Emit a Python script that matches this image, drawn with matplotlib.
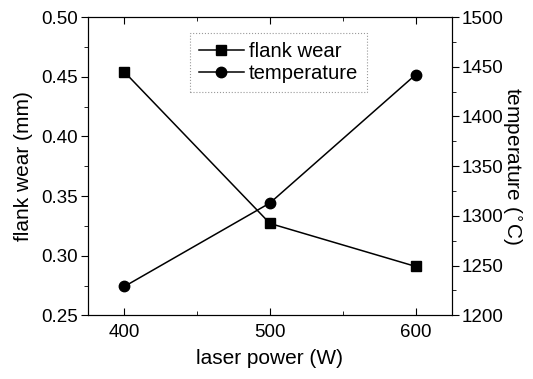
import matplotlib
matplotlib.use("Agg")
import matplotlib.pyplot as plt
from matplotlib.ticker import MultipleLocator

plt.rcParams['font.family'] = ['Liberation Sans', 'DejaVu Sans']
plt.rcParams['font.size'] = 13.5

power = [400, 500, 600]
flank_wear = [0.454, 0.327, 0.291]
temperature = [1229, 1313, 1442]

fig, ax = plt.subplots(figsize=(5.33, 3.79), dpi=100)
fig.subplots_adjust(left=0.165, right=0.848, top=0.955, bottom=0.168)

l1, = ax.plot(power, flank_wear, color='black', lw=1.1, marker='s', ms=7.5, label='flank wear')
ax2 = ax.twinx()
l2, = ax2.plot(power, temperature, color='black', lw=1.1, marker='o', ms=7.5, label='temperature')

ax.set_xlim(375, 625)
ax.set_ylim(0.25, 0.50)
ax2.set_ylim(1200, 1500)

ax.set_xticks(power)
ax.xaxis.set_minor_locator(MultipleLocator(50))
ax.yaxis.set_major_locator(MultipleLocator(0.05))
ax.yaxis.set_minor_locator(MultipleLocator(0.025))
ax2.yaxis.set_major_locator(MultipleLocator(50))
ax2.yaxis.set_minor_locator(MultipleLocator(25))
ax.yaxis.set_major_formatter(plt.FormatStrFormatter('%.2f'))

ax.tick_params(axis='x', which='both', direction='in', top=True, pad=6)
ax.tick_params(axis='x', which='major', length=5)
ax.tick_params(axis='x', which='minor', length=3)
ax.tick_params(axis='y', which='major', direction='out', length=5, pad=2)
ax.tick_params(axis='y', which='minor', direction='out', length=3)
ax2.tick_params(axis='y', which='major', direction='out', length=5, pad=2)
ax2.tick_params(axis='y', which='minor', direction='out', length=3)

ax.set_xlabel('laser power (W)', fontsize=15, labelpad=6)
ax.set_ylabel('flank wear (mm)', fontsize=15, labelpad=6)
ax2.set_ylabel('temperature ($^{\\circ}$C)', fontsize=15, rotation=270, labelpad=14)

leg = ax.legend(handles=[l1, l2], loc='upper left', bbox_to_anchor=(0.28, 0.948),
                borderaxespad=0, frameon=True, fancybox=False, fontsize=14.6,
                handlelength=2.2, handletextpad=0.25, borderpad=0.45, labelspacing=0.15)
leg.get_frame().set_edgecolor('gray')
leg.get_frame().set_linestyle(':')
leg.get_frame().set_linewidth(0.8)

fig.savefig('out.png', dpi=100)
